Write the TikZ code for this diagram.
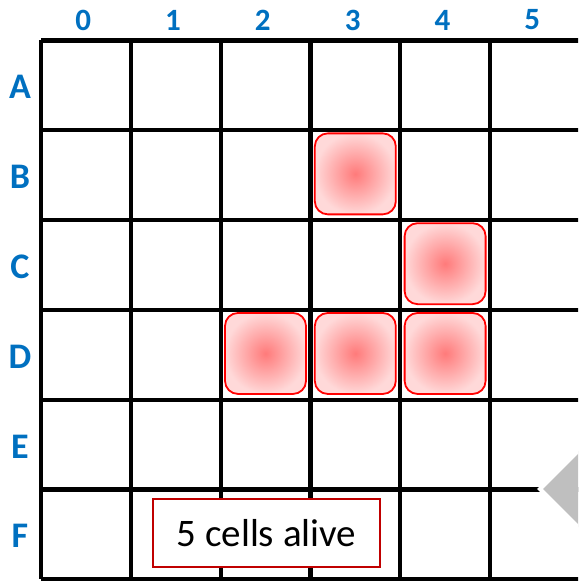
\documentclass[tikz,border=0pt]{standalone}
\usepackage{fontspec}
\setmainfont{Carlito}
\usepackage{tikz}
\usetikzlibrary{positioning, shadings}

\definecolor{labelblue}{HTML}{0070C0}
\definecolor{boxred}{HTML}{C00000}
\definecolor{arrowgray}{HTML}{BFBFBF}

\begin{document}
\begin{tikzpicture}[
  x=89.8pt, y=-89.8pt,
  gridline/.style = {line width=4.2pt},
  collabel/.style = {text=labelblue, font=\fontsize{31}{36}\selectfont\bfseries, inner sep=0pt},
  rowlabel/.style = {text=labelblue, font=\fontsize{36}{40}\selectfont\bfseries, inner sep=0pt},
  alive/.style    = {draw=red, line width=1.8pt, rounded corners=13pt,
                     minimum width=81pt, minimum height=81pt, inner sep=0pt,
                     shading=radial, inner color=red!52, outer color=red!15},
  countbox/.style = {draw=boxred, line width=1.4pt, fill=white,
                     minimum width=227pt, minimum height=68pt,
                     font=\fontsize{39}{44}\selectfont},
]
  \useasboundingbox (-0.4566,-0.451) rectangle (5.980,6.041);
  \clip (-0.4566,-0.451) rectangle (5.980,6.041);

%--- board and its labels ---
  \foreach \k in {0,...,5}
    \draw[gridline] (\k,0) -- (\k,6);
  \foreach \k in {0,...,6}
    \draw[gridline] (0,\k) -- (6.2,\k);

  \foreach \c in {0,...,5}
    \node[collabel] (col\c) at (\c+0.47,-0.228) {\c};
  \foreach \r [count=\i from 0] in {A,B,C,D,E,F}
    \node[rowlabel] (row\r) at (-0.234,\i+0.52) {\r};

%--- live cells (glider) ---
  \foreach \r/\c/\i in {B/3/1, C/4/2, D/2/3, D/3/3, D/4/3}
    \node[alive] (cell\r\c) at (\c+0.5,\i+0.485) {};

%--- count ---
  \node[countbox] (count) at (2.51,5.484) {5 cells alive};

  % side arrow, cut by the page edge
  \coordinate (tip) at (5.557,4.994);
  \fill[arrowgray, draw=white, line width=4pt]
    (tip) -- ++(0.7,-0.7) -- ++(0,1.4) -- cycle;
\end{tikzpicture}
\end{document}
